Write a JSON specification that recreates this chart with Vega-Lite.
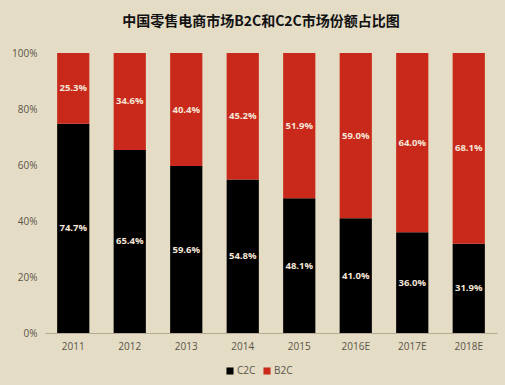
{
  "$schema": "https://vega.github.io/schema/vega-lite/v6.json",
  "width": 452,
  "height": 280,
  "autosize": {"type": "none"},
  "padding": {"left": 45, "top": 53, "right": 8, "bottom": 52},
  "background": "#e4dcc5",
  "title": {
    "text": "中国零售电商市场B2C和C2C市场份额占比图",
    "font": "Noto Sans CJK SC",
    "fontSize": 14,
    "fontWeight": "bold",
    "color": "#111111",
    "anchor": "middle",
    "dx": -10,
    "offset": 19
  },
  "config": {
    "view": {"stroke": null},
    "font": "Open Sans"
  },
  "data": {
    "values": [
      {"year": "2011", "type": "C2C", "value": 0.747, "ord": 1},
      {"year": "2011", "type": "B2C", "value": 0.253, "ord": 2},
      {"year": "2012", "type": "C2C", "value": 0.654, "ord": 1},
      {"year": "2012", "type": "B2C", "value": 0.346, "ord": 2},
      {"year": "2013", "type": "C2C", "value": 0.596, "ord": 1},
      {"year": "2013", "type": "B2C", "value": 0.404, "ord": 2},
      {"year": "2014", "type": "C2C", "value": 0.548, "ord": 1},
      {"year": "2014", "type": "B2C", "value": 0.452, "ord": 2},
      {"year": "2015", "type": "C2C", "value": 0.481, "ord": 1},
      {"year": "2015", "type": "B2C", "value": 0.519, "ord": 2},
      {"year": "2016E", "type": "C2C", "value": 0.41, "ord": 1},
      {"year": "2016E", "type": "B2C", "value": 0.59, "ord": 2},
      {"year": "2017E", "type": "C2C", "value": 0.36, "ord": 1},
      {"year": "2017E", "type": "B2C", "value": 0.64, "ord": 2},
      {"year": "2018E", "type": "C2C", "value": 0.319, "ord": 1},
      {"year": "2018E", "type": "B2C", "value": 0.681, "ord": 2}
    ]
  },
  "transform": [
    {"stack": "value", "groupby": ["year"], "sort": [{"field": "ord", "order": "ascending"}], "as": ["v0", "v1"]},
    {"calculate": "(datum.v0 + datum.v1) / 2", "as": "vmid"}
  ],
  "encoding": {
    "x": {
      "field": "year",
      "type": "ordinal",
      "title": null,
      "scale": {"paddingInner": 0.43, "paddingOuter": 0.215},
      "axis": {
        "labelAngle": 0,
        "labelColor": "#5a5448",
        "labelFontSize": 10,
        "labelPadding": 8,
        "ticks": false,
        "domainColor": "#b5ab92",
        "domainWidth": 1
      }
    }
  },
  "layer": [
    {
      "mark": {"type": "bar"},
      "encoding": {
        "y": {
          "field": "v0",
          "type": "quantitative",
          "scale": {"domain": [0, 1]},
          "title": null,
          "axis": {
            "format": ".0%",
            "values": [0, 0.2, 0.4, 0.6, 0.8, 1],
            "grid": false,
            "domain": false,
            "ticks": false,
            "labelColor": "#5a5448",
            "labelFontSize": 10,
            "labelPadding": 8
          }
        },
        "y2": {"field": "v1"},
        "color": {
          "field": "type",
          "type": "nominal",
          "scale": {"domain": ["C2C", "B2C"], "range": ["#000000", "#c9291b"]},
          "legend": {
            "title": null,
            "orient": "none",
            "direction": "horizontal",
            "legendX": 180,
            "legendY": 313,
            "symbolType": "square",
            "symbolSize": 50,
            "symbolStrokeWidth": 0,
            "labelFontSize": 10,
            "labelColor": "#5a5448",
            "labelOffset": 2,
            "columnPadding": 6
          }
        }
      }
    },
    {
      "mark": {"type": "text", "color": "#f5e6d8", "fontWeight": "bold", "fontSize": 9.5, "baseline": "middle"},
      "encoding": {
        "y": {"field": "vmid", "type": "quantitative"},
        "text": {"field": "value", "type": "quantitative", "format": ".1%"}
      }
    }
  ]
}
